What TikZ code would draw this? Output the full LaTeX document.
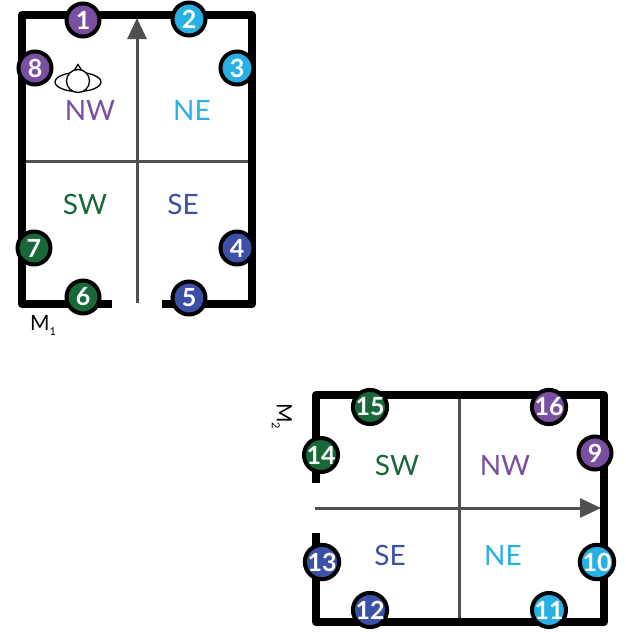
\documentclass[tikz,border=0pt]{standalone}
\usepackage{fontspec}
\setmainfont{Lato}
\usetikzlibrary{arrows.meta}
\definecolor{lila}{RGB}{122,78,160}
\definecolor{cian}{RGB}{40,176,230}
\definecolor{zold}{RGB}{24,104,56}
\definecolor{kek}{RGB}{60,80,166}
\definecolor{szurke}{RGB}{80,80,80}
\tikzset{
    fal/.style = {line width=8pt, line join=round},
    valaszto/.style = {szurke, line width=3pt},
    nyil/.style = {szurke, line width=3pt, -{Triangle[length=21pt,width=19pt]}},
    kor/.style = {circle, draw=black, line width=4pt, minimum size=33pt, inner sep=0pt,
        text=white, font=\fontsize{25}{25}\selectfont\bfseries},
    negyed/.style = {font=\fontsize{28}{28}\selectfont},
    szoba/.style = {font=\fontsize{21}{21}\selectfont}
}
\begin{document}
\begin{tikzpicture}[x=1pt, y=-1pt]
    \useasboundingbox (0,0) rectangle (626,632);
    %M1 szoba
    \draw[valaszto] (22,161) -- (252,161);
    \draw[nyil] (137,303) -- (137,18);
    \draw[fal] (112,304) -- (22,304) -- (22,15) -- (252,15) -- (252,304) -- (162,304);
    %M2 szoba, elforgatva
    \draw[valaszto] (459,395) -- (459,622);
    \draw[nyil] (315,508) -- (601,508);
    \draw[fal] (316,483) -- (316,395) -- (604,395) -- (604,622) -- (316,622) -- (316,533);
    %a szem (felulrol)
    \draw[line width=1.3pt] (78,82) ellipse (23 and 9.5);
    \draw[line width=1.3pt, fill=white] (73.5,73) .. controls (75.5,68) and (77,66) .. (78,64.5)
        .. controls (79,66) and (80.5,68) .. (82.5,73);
    \draw[line width=1.3pt, fill=white] (78,81) circle (11.5);
    \foreach \n/\x/\y/\c in {1/83/20/lila, 2/189/19/cian, 3/237/68/cian, 4/237/248/kek,
        5/189/298/kek, 6/83/297/zold, 7/34/248/zold, 8/35/68/lila,
        9/595/453/lila, 10/597/562/cian, 11/549/610/cian, 12/370/610/kek,
        13/322/562/kek, 14/321/455/zold, 15/370/407/zold, 16/549/407/lila}{
        \node[kor, fill=\c] (k\n) at (\x,\y) {\n};
    }
    \node[negyed, text=lila] (nw1) at (90,110) {NW};
    \node[negyed, text=cian] (ne1) at (192,110) {NE};
    \node[negyed, text=zold] (sw1) at (85,204) {SW};
    \node[negyed, text=kek] (se1) at (183,204) {SE};
    \node[negyed, text=zold] (sw2) at (397,465) {SW};
    \node[negyed, text=lila] (nw2) at (505,465) {NW};
    \node[negyed, text=kek] (se2) at (390,555) {SE};
    \node[negyed, text=cian] (ne2) at (503,555) {NE};
    \node[szoba] (m1) at (43,325) {M\raisebox{-5pt}{\fontsize{11}{11}\selectfont 1}};
    \node[szoba, rotate=-90] (m2) at (282,416) {M\raisebox{-5pt}{\fontsize{11}{11}\selectfont 2}};
\end{tikzpicture}
\end{document}
